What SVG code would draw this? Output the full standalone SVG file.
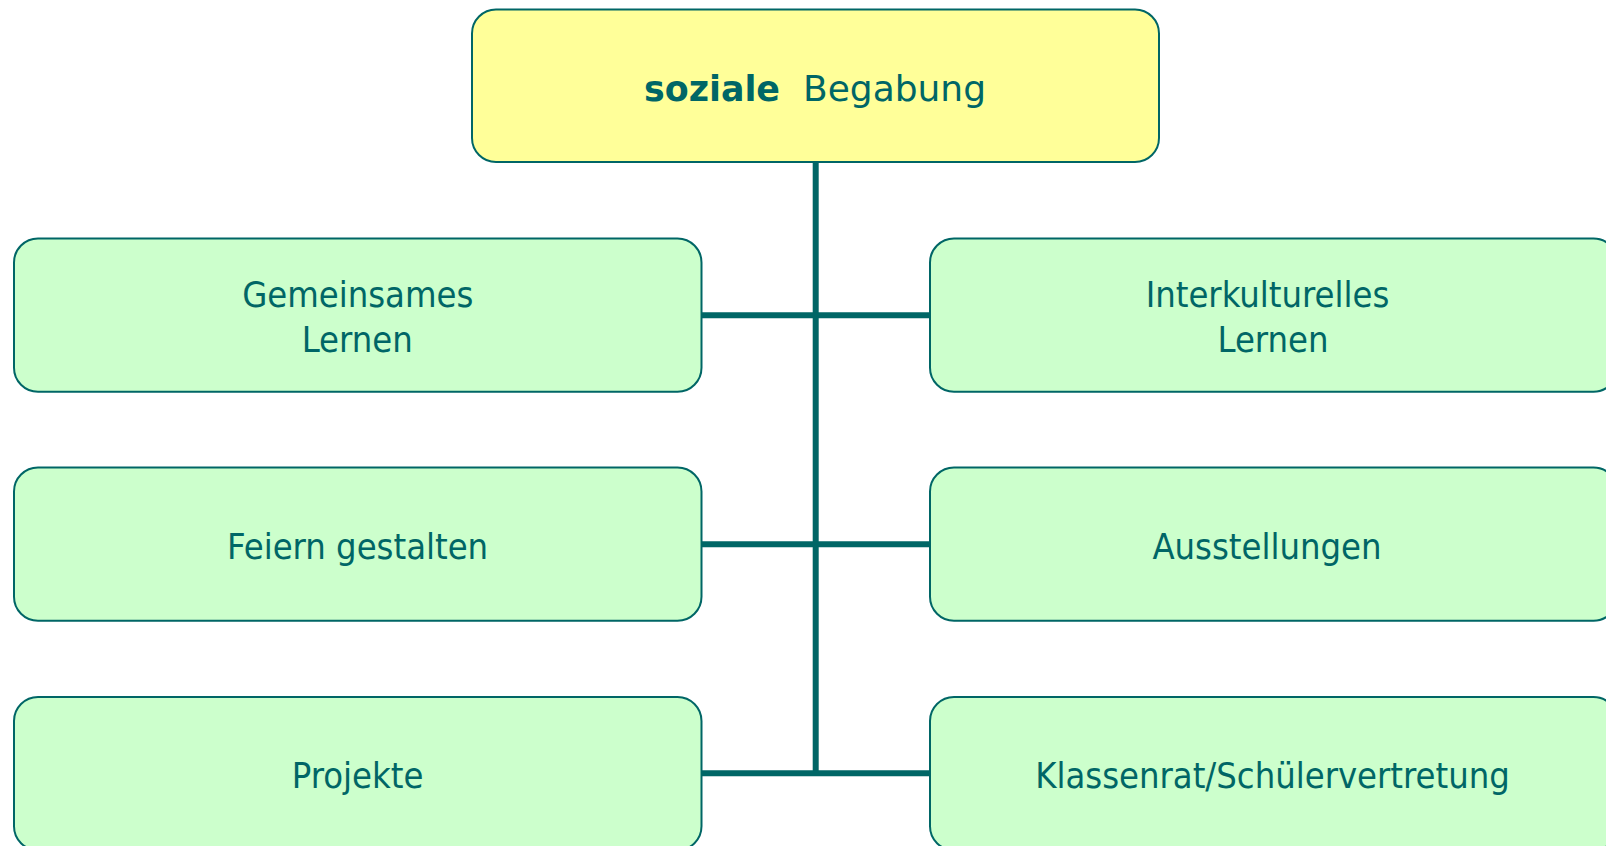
<svg xmlns="http://www.w3.org/2000/svg" width="1606" height="846" viewBox="0 0 1606 846">
<style>
.box{stroke:#006666;stroke-width:2}
.leaf{fill:#CCFFCC}
.root{fill:#FFFF99}
.lbl{font-family:"DejaVu Sans Condensed","DejaVu Sans",sans-serif;font-size:36px;fill:#006666;text-anchor:middle}
.ttl{font-family:"DejaVu Sans",sans-serif;font-size:36px;fill:#006666}
.conn{stroke:#006666;stroke-width:6;fill:none;stroke-linecap:butt}
</style>
<rect width="1606" height="846" fill="#FFFFFF"/>
<g id="connectors">
<path class="conn" d="M815.7 162 V776"/>
<path class="conn" d="M701.5 315.2 H930"/>
<path class="conn" d="M701.5 544.2 H930"/>
<path class="conn" d="M701.5 773.2 H930"/>
</g>
<g id="root">
<rect class="box root" x="472" y="9.5" width="687" height="152.5" rx="24" ry="24"/>
<text class="ttl" x="644" y="100.7" font-weight="bold" textLength="136" lengthAdjust="spacingAndGlyphs">soziale</text>
<text class="ttl" x="803" y="100.7" textLength="183" lengthAdjust="spacingAndGlyphs">Begabung</text>
</g>
<g id="gemeinsames">
<rect class="box leaf" x="14" y="238.5" width="687.5" height="153.2" rx="24" ry="24"/>
<text class="lbl" x="357.7" y="307">Gemeinsames</text>
<text class="lbl" x="357.2" y="352">Lernen</text>
</g>
<g id="feiern">
<rect class="box leaf" x="14" y="467.5" width="687.5" height="153.2" rx="24" ry="24"/>
<text class="lbl" x="357.6" y="559">Feiern gestalten</text>
</g>
<g id="projekte">
<rect class="box leaf" x="14" y="697" width="687.5" height="153.2" rx="24" ry="24"/>
<text class="lbl" x="357.6" y="788">Projekte</text>
</g>
<g id="interkulturelles">
<rect class="box leaf" x="930" y="238.5" width="687.5" height="153.2" rx="24" ry="24"/>
<text class="lbl" x="1267.5" y="307">Interkulturelles</text>
<text class="lbl" x="1273" y="352">Lernen</text>
</g>
<g id="ausstellungen">
<rect class="box leaf" x="930" y="467.5" width="687.5" height="153.2" rx="24" ry="24"/>
<text class="lbl" x="1267" y="559">Ausstellungen</text>
</g>
<g id="klassenrat">
<rect class="box leaf" x="930" y="697" width="687.5" height="153.2" rx="24" ry="24"/>
<text class="lbl" x="1272.5" y="788">Klassenrat/Schülervertretung</text>
</g>
</svg>
